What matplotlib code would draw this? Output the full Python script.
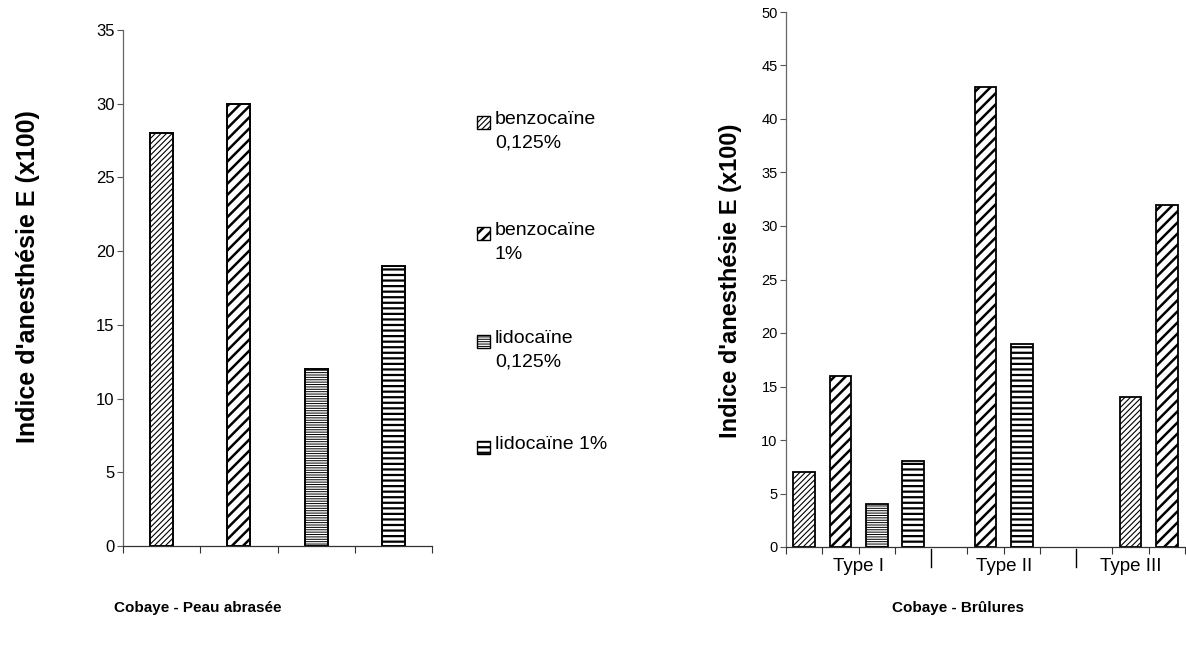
import numpy as np
import matplotlib
matplotlib.use("Agg")
import matplotlib.pyplot as plt
from matplotlib.patches import Rectangle
from matplotlib.transforms import blended_transform_factory

plt.rcParams['font.family'] = ['Liberation Sans', 'DejaVu Sans']

# legend entries / drug series
drugs = ["benzocaïne\n0,125%", "benzocaïne\n1%", "lidocaïne\n0,125%", "lidocaïne 1%"]

# left chart: abraded skin
abraded_values = [28, 30, 12, 19]

# right chart: burns, one bar per slot (drug index -1 = empty slot)
burn_types = ["Type I", "Type II", "Type III"]
burn_slots = [4, 4, 3]
burn_values = [7, 16, 4, 8, 0, 43, 19, 0, 0, 14, 32]
burn_drug = [0, 1, 2, 3, -1, 1, 3, -1, -1, 0, 1]

titles = ["Cobaye - Peau abrasée", "Cobaye - Brûlures"]
ylabel = "Indice d'anesthésie E (x100)"

# styles
hatches = ["//////", "///", "-------", "---"]
hatch_lw = [0.8, 1.8, 0.7, 1.6]

W, H = 1186, 645
fig = plt.figure(figsize=(W / 100, H / 100), dpi=100)


def fx(px):
    return px / W


def fy(py):
    return 1 - py / H


def style_patch(patch, k):
    patch.set_hatch(hatches[k])
    if hasattr(patch, "set_hatch_linewidth"):
        patch.set_hatch_linewidth(hatch_lw[k])


def style_axis(ax, labelsize):
    for s in ["top", "right"]:
        ax.spines[s].set_visible(False)
    ax.spines["left"].set_color("#666666")
    ax.spines["left"].set_linewidth(0.9)
    ax.spines["bottom"].set_color("#333333")
    ax.spines["bottom"].set_linewidth(0.9)
    ax.tick_params(axis="y", direction="out", length=4, width=0.8,
                   color="#555555", labelsize=labelsize, pad=2)
    ax.tick_params(axis="x", direction="out", length=5, width=0.8,
                   color="#333333", labelbottom=False)


# ---- left chart ----
ax1 = fig.add_axes([fx(123), fy(546), fx(432 - 123), (546 - 30) / H])
x1 = np.arange(len(abraded_values))
bars = ax1.bar(x1, abraded_values, width=0.3, color="white",
               edgecolor="black", linewidth=1.4)
for k, b in enumerate(bars):
    style_patch(b, k)
ax1.set_xlim(-0.5, len(abraded_values) - 0.5)
ax1.set_ylim(0, 35)
ax1.set_yticks(np.arange(0, 36, 5))
ax1.set_xticks(np.arange(-0.5, len(abraded_values), 1))
style_axis(ax1, 12)

# ---- right chart ----
ax2 = fig.add_axes([fx(786), fy(547), fx(1185 - 786), (547 - 12) / H])
n_slots = len(burn_values)
x2 = np.arange(n_slots)
for xi, v, d in zip(x2, burn_values, burn_drug):
    if d < 0 or v == 0:
        continue
    b = ax2.bar(xi, v, width=0.6, color="white", edgecolor="black",
                linewidth=1.3)[0]
    style_patch(b, d)
ax2.set_xlim(-0.5, n_slots - 0.5)
ax2.set_ylim(0, 50)
ax2.set_yticks(np.arange(0, 51, 5))

starts = np.concatenate([[0], np.cumsum(burn_slots)[:-1]])
ticks = [-0.5, n_slots - 0.5]
for s, n in zip(starts, burn_slots):
    ticks += [s + j - 0.5 for j in range(1, n)]
ax2.set_xticks(sorted(ticks))
style_axis(ax2, 10.5)

trans = blended_transform_factory(ax2.transData, ax2.transAxes)
for s, n, name in zip(starts, burn_slots, burn_types):
    ax2.text(s + (n - 1) / 2, -0.036, name, transform=trans, ha="center",
             va="center", fontsize=13.5)
    if s > 0:
        ax2.plot([s - 0.5, s - 0.5], [-0.004, -0.038], transform=trans,
                 color="black", linewidth=1.0, clip_on=False)

# ---- legend ----
legend_y = [122, 233, 341, 447]
for k, (label, yc) in enumerate(zip(drugs, legend_y)):
    sw = Rectangle((fx(477), fy(yc + 7)), fx(13), 13 / H,
                   transform=fig.transFigure, facecolor="white",
                   edgecolor="black", linewidth=1.0)
    style_patch(sw, k)
    fig.patches.append(sw)
    fig.text(fx(495), fy(yc - 11), label, ha="left", va="top",
             fontsize=14, linespacing=1.5)

# ---- axis titles ----
fig.text(fx(28), fy(277), ylabel, rotation=90, ha="center", va="center",
         fontsize=18, fontweight="bold")
fig.text(fx(731), fy(281), ylabel, rotation=90, ha="center", va="center",
         fontsize=17, fontweight="bold")
fig.text(fx(198), fy(608), titles[0], ha="center", va="center",
         fontsize=11, fontweight="bold")
fig.text(fx(958), fy(608), titles[1], ha="center", va="center",
         fontsize=11, fontweight="bold")

fig.savefig("out.png", dpi=100)
